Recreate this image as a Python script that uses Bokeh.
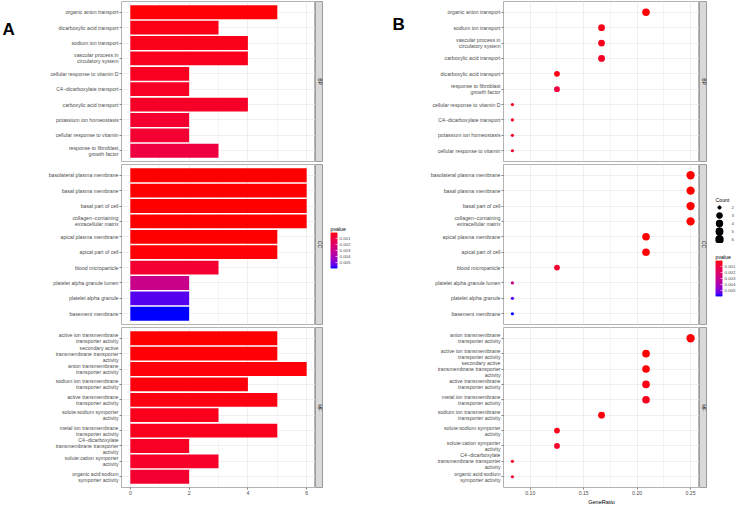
import math
import numpy as np
from bokeh.plotting import figure
from bokeh.models import (ColumnDataSource, FactorRange, Range1d, FixedTicker,
                          PrintfTickFormatter, LinearAxis, Label, LinearColorMapper)
from bokeh.layouts import row, column
from bokeh.transform import transform
from bokeh.embed import file_html
from bokeh.resources import INLINE

# ---------------- data ----------------
# terms of each ontology, listed in ascending p-value order (order of panel A)
bp_terms = ["organic anion transport", "dicarboxylic acid transport", "sodium ion transport",
            "vascular process in\ncirculatory system", "cellular response to vitamin D",
            "C4\u2212dicarboxylate transport", "carboxylic acid transport",
            "potassium ion homeostasis", "cellular response to vitamin",
            "response to fibroblast\ngrowth factor"]
bp_count = [5, 3, 4, 4, 2, 2, 4, 2, 2, 3]
bp_ratio = [0.2083, 0.125, 0.1667, 0.1667, 0.0833, 0.0833, 0.1667, 0.0833, 0.0833, 0.125]
bp_pvalue = [0.00008, 0.00025, 0.00030, 0.00035, 0.00045, 0.00050, 0.00055, 0.00070, 0.00080, 0.00110]

cc_terms = ["basolateral plasma membrane", "basal plasma membrane", "basal part of cell",
            "collagen\u2212containing\nextracellular matrix", "apical plasma membrane",
            "apical part of cell", "blood microparticle", "platelet alpha granule lumen",
            "platelet alpha granule", "basement membrane"]
cc_count = [6, 6, 6, 6, 5, 5, 3, 2, 2, 2]
cc_ratio = [0.25, 0.25, 0.25, 0.25, 0.2083, 0.2083, 0.125, 0.0833, 0.0833, 0.0833]
cc_pvalue = [0.00002, 0.00002, 0.00003, 0.00003, 0.00006, 0.00007, 0.00075, 0.0030, 0.0055, 0.0059]

mf_terms = ["active ion transmembrane\ntransporter activity",
            "secondary active\ntransmembrane transporter\nactivity",
            "anion transmembrane\ntransporter activity",
            "sodium ion transmembrane\ntransporter activity",
            "active transmembrane\ntransporter activity",
            "solute:sodium symporter\nactivity",
            "metal ion transmembrane\ntransporter activity",
            "C4\u2212dicarboxylate\ntransmembrane transporter\nactivity",
            "solute:cation symporter\nactivity",
            "organic acid:sodium\nsymporter activity"]
mf_count = [5, 5, 6, 4, 5, 3, 5, 2, 3, 2]
mf_ratio = [0.2083, 0.2083, 0.25, 0.1667, 0.2083, 0.125, 0.2083, 0.0833, 0.125, 0.0833]
mf_pvalue = [0.00005, 0.00008, 0.00010, 0.00015, 0.00020, 0.00035, 0.00040, 0.00050, 0.00060, 0.00075]

ontologies = ["BP", "CC", "MF"]
count_ticks = [0, 2, 4, 6]
count_minor = [1, 3, 5]
ratio_ticks = [0.10, 0.15, 0.20, 0.25]
ratio_minor = [0.125, 0.175, 0.225]
pvalue_ticks = [0.001, 0.002, 0.003, 0.004, 0.005]
count_levels = [2, 3, 4, 5, 6]

data = {
    "BP": (bp_terms, bp_count, bp_ratio, bp_pvalue),
    "CC": (cc_terms, cc_count, cc_ratio, cc_pvalue),
    "MF": (mf_terms, mf_count, mf_ratio, mf_pvalue),
}

# ---------------- styles ----------------
FONT = "Liberation Sans"
TICK_FS = "5.2px"
LEG_FS = "4.4px"
TXT_COL = "#4D4D4D"
GRID_COL = "#EBEBEB"
BORDER_COL = "#A0A0A0"
FH = 160
TAG_A, LEFT_A, FW_A = 20, 101, 194
TAG_B, LEFT_B, FW_B = 36, 95, 196
STRIP_W = 8
TOTAL_H = 506
BORDERS = {"BP": (1, 1), "CC": (2, 1), "MF": (2, 17)}
D_MIN, D_MAX = 3.2, 8.3

# ---------------- colour scale (ggplot-like Lab gradient red -> blue) ----------------
def _to_lin(c):
    c = c / 255.0
    return c / 12.92 if c <= 0.04045 else ((c + 0.055) / 1.055) ** 2.4

def _to_srgb(c):
    c = c * 12.92 if c <= 0.0031308 else 1.055 * max(c, 0) ** (1 / 2.4) - 0.055
    return int(round(min(max(c, 0.0), 1.0) * 255))

_M = np.array([[0.4124, 0.3576, 0.1805], [0.2126, 0.7152, 0.0722], [0.0193, 0.1192, 0.9505]])
_Minv = np.linalg.inv(_M)
_WP = (0.95047, 1.0, 1.08883)

def _f(t):
    return t ** (1 / 3) if t > (6 / 29) ** 3 else t / (3 * (6 / 29) ** 2) + 4 / 29

def _finv(t):
    return t ** 3 if t > 6 / 29 else 3 * (6 / 29) ** 2 * (t - 4 / 29)

def rgb2lab(rgb):
    X, Y, Z = _M @ np.array([_to_lin(c) for c in rgb])
    fx, fy, fz = _f(X / _WP[0]), _f(Y / _WP[1]), _f(Z / _WP[2])
    return np.array([116 * fy - 16, 500 * (fx - fy), 200 * (fy - fz)])

def lab2hex(lab):
    L, a, b = lab
    fy = (L + 16) / 116
    fx = fy + a / 500
    fz = fy - b / 200
    xyz = np.array([_WP[0] * _finv(fx), _WP[1] * _finv(fy), _WP[2] * _finv(fz)])
    r, g, bb = (_to_srgb(c) for c in _Minv @ xyz)
    return "#%02x%02x%02x" % (r, g, bb)

lab_lo, lab_hi = rgb2lab((255, 0, 0)), rgb2lab((0, 0, 255))
palette = [lab2hex(lab_lo + (lab_hi - lab_lo) * t) for t in np.linspace(0, 1, 256)]

all_p = bp_pvalue + cc_pvalue + mf_pvalue
pmin, pmax = min(all_p), max(all_p)
mapper = LinearColorMapper(palette=palette, low=pmin, high=pmax)

all_count = bp_count + cc_count + mf_count
cmin, cmax = min(all_count), max(all_count)

def dot_size(c):
    return D_MIN + (D_MAX - D_MIN) * math.sqrt((c - cmin) / (cmax - cmin))

all_ratio = bp_ratio + cc_ratio + mf_ratio
rlo, rhi = min(all_ratio), max(all_ratio)
rpad = 0.05 * (rhi - rlo)
cpad = 0.05 * (cmax - 0)


def style_yaxis(ax):
    ax.major_label_text_font = FONT
    ax.major_label_text_font_size = TICK_FS
    ax.major_label_text_color = TXT_COL
    ax.major_label_text_line_height = 1.0
    ax.major_tick_out = 2
    ax.major_tick_in = 0
    ax.major_tick_line_color = "#333333"
    ax.major_tick_line_width = 0.6
    ax.axis_line_color = None
    ax.major_label_standoff = 1


def facet(kind, ont, left, fw):
    terms, counts, ratios, pvals = data[ont]
    idx = list(range(len(terms)))
    if kind == "B":
        idx = sorted(idx, key=lambda i: -counts[i])
    src = ColumnDataSource(dict(
        term=[terms[i] for i in idx], count=[counts[i] for i in idx],
        ratio=[ratios[i] for i in idx], p=[pvals[i] for i in idx],
        size=[dot_size(counts[i]) for i in idx]))
    top, bottom = BORDERS[ont]
    show_x = ont == "MF"
    if kind == "A":
        xr = Range1d(0 - cpad, cmax + cpad)
    else:
        xr = Range1d(rlo - rpad, rhi + rpad)
    yr = FactorRange(factors=list(reversed(src.data["term"])), range_padding=0.2,
                     range_padding_units="absolute")
    f = figure(frame_width=fw, frame_height=FH, x_range=xr, y_range=yr,
               min_border=0, min_border_left=left, min_border_right=0,
               min_border_top=top, min_border_bottom=bottom,
               x_axis_location="below" if show_x else None,
               toolbar_location=None, output_backend="svg",
               background_fill_color="white", border_fill_color="white",
               outline_line_color=BORDER_COL, outline_line_width=0.8)
    style_yaxis(f.yaxis[0])
    ticks = count_ticks if kind == "A" else ratio_ticks
    minor = count_minor if kind == "A" else ratio_minor
    f.xgrid.ticker = FixedTicker(ticks=ticks, minor_ticks=minor)
    f.xgrid.grid_line_color = GRID_COL
    f.xgrid.grid_line_width = 0.8
    f.xgrid.minor_grid_line_color = GRID_COL
    f.xgrid.minor_grid_line_width = 0.5
    f.ygrid.grid_line_color = GRID_COL
    f.ygrid.grid_line_width = 0.8
    if show_x:
        ax = f.xaxis[0]
        ax.ticker = FixedTicker(ticks=ticks)
        if kind == "B":
            ax.formatter = PrintfTickFormatter(format="%.2f")
            ax.axis_label = "GeneRatio"
            ax.axis_label_text_font = FONT
            ax.axis_label_text_font_size = "5.6px"
            ax.axis_label_text_font_style = "normal"
            ax.axis_label_text_color = "black"
            ax.axis_label_standoff = 1
        ax.major_label_text_font = FONT
        ax.major_label_text_font_size = TICK_FS
        ax.major_label_text_color = TXT_COL
        ax.major_tick_out = 2
        ax.major_tick_in = 0
        ax.major_tick_line_color = "#333333"
        ax.major_tick_line_width = 0.6
        ax.minor_tick_line_color = None
        ax.axis_line_color = None
        ax.major_label_standoff = 1
    if kind == "A":
        f.hbar(y="term", left=0, right="count", height=0.9, source=src,
               fill_color=transform("p", mapper), line_color=None)
    else:
        f.scatter(x="ratio", y="term", size="size", source=src,
                  fill_color=transform("p", mapper), line_color=None)
    return f


def strip(ont):
    top, bottom = BORDERS[ont]
    f = figure(frame_width=STRIP_W, frame_height=FH, x_range=Range1d(0, 1), y_range=Range1d(0, 1),
               min_border=0, min_border_left=0, min_border_right=0,
               min_border_top=top, min_border_bottom=bottom,
               x_axis_location=None, y_axis_location=None,
               toolbar_location=None, output_backend="svg",
               background_fill_color="#D9D9D9", border_fill_color="white",
               outline_line_color="#8C8C8C", outline_line_width=0.8)
    f.grid.visible = False
    f.add_layout(Label(x=0.5, y=0.5, text=ont, angle=-math.pi / 2, text_align="center",
                       text_baseline="middle", text_font=FONT, text_font_size="5px",
                       text_color="#1A1A1A"))
    return f


def tag_fig(letter, width, x, y):
    # narrow blank figure whose pixel-based ranges hold the panel tag
    f = figure(frame_width=width, frame_height=TOTAL_H, x_range=Range1d(0, width),
               y_range=Range1d(TOTAL_H, 0), min_border=0,
               x_axis_location=None, y_axis_location=None,
               toolbar_location=None, output_backend="svg",
               outline_line_color=None, border_fill_color="white")
    f.grid.visible = False
    f.add_layout(Label(x=x, y=y, text=letter, text_font=FONT, text_font_size="17px",
                       text_font_style="bold", text_color="black",
                       text_baseline="alphabetic", text_align="left"))
    return f


def colorbar_fig(top, left, right, bottom):
    f = figure(frame_width=7, frame_height=36, x_range=Range1d(0, 1), y_range=Range1d(pmax, pmin),
               min_border=0, min_border_left=left, min_border_right=right,
               min_border_top=top, min_border_bottom=bottom,
               x_axis_location=None, y_axis_location=None,
               toolbar_location=None, output_backend="svg",
               outline_line_color=None, border_fill_color="white", title="pvalue")
    f.grid.visible = False
    f.title.text_font = FONT
    f.title.text_font_size = "5.2px"
    f.title.text_font_style = "normal"
    f.title.text_color = "black"
    f.title.standoff = 1
    f.title.offset = 0
    n = 40
    vals = np.linspace(pmin, pmax, n)
    f.hbar(y="v", left=0, right=1, height=(pmax - pmin) / (n - 1) * 2.2,
           source=ColumnDataSource(dict(v=vals)),
           fill_color=transform("v", mapper), line_color=None)
    rax = LinearAxis(ticker=FixedTicker(ticks=pvalue_ticks),
                     formatter=PrintfTickFormatter(format="%.3f"))
    rax.axis_line_color = None
    rax.major_tick_in = 2
    rax.major_tick_out = 0
    rax.major_tick_line_color = "white"
    rax.major_tick_line_width = 0.6
    rax.minor_tick_line_color = None
    rax.major_label_text_font = FONT
    rax.major_label_text_color = TXT_COL
    rax.major_label_text_font_size = LEG_FS
    rax.major_label_standoff = 2
    f.add_layout(rax, "right")
    return f


def count_legend_fig(top, left, right, bottom):
    labels = [str(c) for c in count_levels]
    f = figure(frame_width=8, frame_height=40, x_range=Range1d(0, 1),
               y_range=FactorRange(factors=list(reversed(labels))),
               min_border=0, min_border_left=left, min_border_right=right,
               min_border_top=top, min_border_bottom=bottom,
               x_axis_location=None, y_axis_location="right",
               toolbar_location=None, output_backend="svg",
               outline_line_color=None, border_fill_color="white", title="Count")
    f.grid.visible = False
    f.title.text_font = FONT
    f.title.text_font_size = "5.2px"
    f.title.text_font_style = "normal"
    f.title.text_color = "black"
    f.title.standoff = 1
    f.title.offset = 0
    ax = f.yaxis[0]
    ax.axis_line_color = None
    ax.major_tick_line_color = None
    ax.major_label_text_font = FONT
    ax.major_label_text_font_size = LEG_FS
    ax.major_label_text_color = TXT_COL
    ax.major_label_standoff = 2
    f.scatter(x=0.5, y="lab", size="size", color="black",
              source=ColumnDataSource(dict(lab=labels, size=[dot_size(c) for c in count_levels])))
    return f


# ---------------- panel A ----------------
A_facets = [facet("A", o, LEFT_A, FW_A) for o in ontologies]
A_col = row(tag_fig("A", TAG_A, 2, 29),
            column([row(A_facets[i], strip(o)) for i, o in enumerate(ontologies)]))
A_leg = colorbar_fig(top=232, left=7, right=35, bottom=TOTAL_H - 232 - 36)

# ---------------- panel B ----------------
B_facets = [facet("B", o, LEFT_B, FW_B) for o in ontologies]
B_col = row(tag_fig("B", TAG_B, 20, 24),
            column([row(B_facets[i], strip(o)) for i, o in enumerate(ontologies)]))
B_leg = column(count_legend_fig(top=203, left=8, right=13, bottom=0),
               colorbar_fig(top=17, left=6, right=16, bottom=TOTAL_H - 243 - 17 - 36))

p = row(A_col, A_leg, B_col, B_leg)

open("out.html", "w").write(file_html(p, INLINE))
